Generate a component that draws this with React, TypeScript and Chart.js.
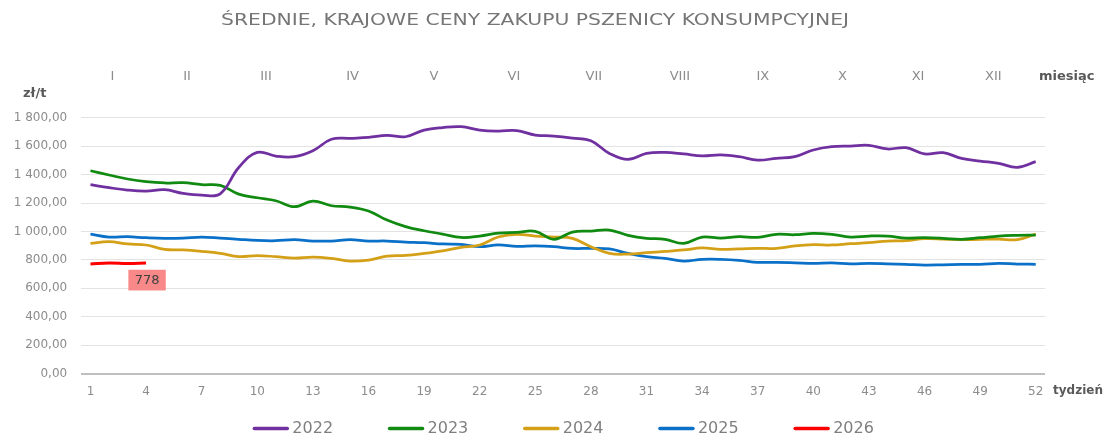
import { useEffect, useRef } from "react";
import { Chart, registerables } from "chart.js";

Chart.register(...registerables);

const TITLE = "ŚREDNIE, KRAJOWE CENY ZAKUPU PSZENICY KONSUMPCYJNEJ";

const weeks = [
  "1", "2", "3", "4", "5", "6", "7", "8", "9", "10", "11", "12", "13",
  "14", "15", "16", "17", "18", "19", "20", "21", "22", "23", "24", "25", "26",
  "27", "28", "29", "30", "31", "32", "33", "34", "35", "36", "37", "38", "39",
  "40", "41", "42", "43", "44", "45", "46", "47", "48", "49", "50", "51", "52",
];

const months = ["I", "II", "III", "IV", "V", "VI", "VII", "VIII", "IX", "X", "XI", "XII"];
// week number at which each month label is centred
const monthCenterWeeks = [2.18, 6.21, 10.47, 15.14, 19.53, 23.85, 28.16, 32.8, 37.28, 41.57, 45.65, 49.71];

const yTicks = [0, 200, 400, 600, 800, 1000, 1200, 1400, 1600, 1800];

const s2022 = [
  1329, 1308, 1291, 1284, 1294, 1268, 1256, 1265, 1450, 1556,
  1530, 1526, 1568, 1648, 1655, 1662, 1676, 1666, 1713, 1731,
  1737, 1713, 1706, 1709, 1678, 1671, 1657, 1638, 1549, 1507,
  1549, 1556, 1545, 1531, 1538, 1526, 1502, 1514, 1526, 1573,
  1596, 1601, 1606, 1580, 1589, 1545, 1554, 1514, 1495, 1479,
  1451, 1491,
];
const s2023 = [
  1427, 1397, 1369, 1350, 1341, 1343, 1329, 1324, 1263, 1237,
  1216, 1174, 1214, 1181, 1172, 1144, 1080, 1034, 1005, 982,
  958, 968, 989, 994, 1001, 945, 996, 1003, 1010, 973,
  952, 945, 916, 961, 954, 963, 959, 980, 977, 987,
  980, 961, 968, 968, 954, 956, 952, 945, 956, 968,
  973, 975,
];
const s2024 = [
  916, 928, 912, 905, 874, 870, 860, 846, 823, 830,
  823, 813, 820, 811, 792, 799, 827, 832, 846, 864,
  888, 905, 961, 980, 968, 961, 952, 893, 846, 841,
  851, 860, 870, 884, 874, 877, 881, 881, 898, 907,
  905, 914, 921, 933, 935, 949, 947, 942, 945, 947,
  942, 982,
];
const s2025 = [
  982, 961, 963, 956, 952, 954, 961, 954, 945, 937,
  935, 942, 933, 933, 942, 933, 933, 926, 921, 912,
  909, 893, 905, 895, 898, 893, 881, 881, 877, 846,
  823, 811, 792, 804, 804, 797, 783, 783, 780, 776,
  780, 773, 776, 773, 769, 764, 766, 769, 769, 776,
  771, 769,
];
const s2026 = [771, 779, 775, 778];

const seriesLabels = ["2022", "2023", "2024", "2025", "2026"];
const seriesColors = ["#7030a0", "#108a10", "#d4a017", "#0a70c8", "#ff0000"];
const seriesData = [s2022, s2023, s2024, s2025, s2026];

const FONT = '"DejaVu Sans", "Noto Sans", sans-serif';

function fmtPL(v: number): string {
  const s = v.toFixed(2);
  const [i, d] = s.split(".");
  return i.replace(/\B(?=(\d{3})+(?!\d))/g, " ") + "," + d;
}

const overlayPlugin = {
  id: "overlay",
  afterDraw(chart: any) {
    const { ctx, chartArea, scales } = chart;
    const xs = scales.x;
    ctx.save();
    ctx.textBaseline = "middle";

    // title
    ctx.font = `16.5px ${FONT}`;
    ctx.fillStyle = "#767676";
    const tw = ctx.measureText(TITLE).width;
    ctx.save();
    ctx.translate(535, 20.5);
    ctx.scale(628 / tw, 1);
    ctx.textAlign = "center";
    ctx.fillText(TITLE, 0, 0);
    ctx.restore();

    // month labels
    ctx.font = `13px ${FONT}`;
    ctx.fillStyle = "#8c8c8c";
    ctx.textAlign = "center";
    months.forEach((m, i) => {
      ctx.fillText(m, xs.getPixelForValue(monthCenterWeeks[i] - 1), 77);
    });

    // axis captions
    ctx.font = `bold 13px ${FONT}`;
    ctx.fillStyle = "#595959";
    ctx.textAlign = "left";
    ctx.fillText("miesiąc", chartArea.right - 6, 77);
    ctx.fillText("zł/t", 23, 94);
    ctx.font = `bold 12px ${FONT}`;
    ctx.fillText("tydzień", chartArea.right + 8, 391);

    // data label on last 2026 point
    const meta = chart.getDatasetMeta(4);
    const lastIdx = s2026.length - 1;
    const pt = meta.data[lastIdx];
    if (pt) {
      const cx = pt.x + 1;
      const cy = pt.y + 17;
      ctx.fillStyle = "#f98888";
      ctx.fillRect(cx - 18.7, cy - 10.3, 37.4, 20.7);
      ctx.font = `13px ${FONT}`;
      ctx.fillStyle = "#404040";
      ctx.textAlign = "center";
      ctx.fillText(String(s2026[lastIdx]), cx, cy + 0.5);
    }

    // legend
    ctx.font = `16px ${FONT}`;
    const pitch = 135.2;
    const lineLen = 37;
    const lastW = ctx.measureText(seriesLabels[seriesLabels.length - 1]).width;
    const total = pitch * (seriesLabels.length - 1) + lineLen + 3 + lastW;
    const start = (chartArea.left + chartArea.right) / 2 - total / 2;
    const ly = 428.5;
    chart.data.datasets.forEach((ds: any, i: number) => {
      const x0 = start + i * pitch;
      ctx.strokeStyle = ds.borderColor;
      ctx.lineWidth = 3.5;
      ctx.lineCap = "round";
      ctx.beginPath();
      ctx.moveTo(x0 + 2, ly);
      ctx.lineTo(x0 + lineLen - 2, ly);
      ctx.stroke();
      ctx.fillStyle = "#7f7f7f";
      ctx.textAlign = "left";
      ctx.fillText(ds.label, x0 + lineLen + 3, ly + 0.5);
    });

    ctx.restore();
  },
};

export default function App() {
  const ref = useRef<HTMLCanvasElement | null>(null);

  useEffect(() => {
    if (!ref.current) return;
    const chart = new Chart(ref.current, {
      type: "line",
      data: {
        labels: weeks,
        datasets: seriesData.map((d, i) => ({
          label: seriesLabels[i],
          data: d,
          borderColor: seriesColors[i],
          backgroundColor: seriesColors[i],
          borderWidth: i === 4 ? 3 : 2.75,
          pointRadius: 0,
          tension: 0.4,
          fill: false,
        })),
      },
      options: {
        responsive: false,
        animation: false,
        layout: { padding: { top: 117.7, right: 58, left: 0, bottom: 0 } },
        plugins: {
          legend: { display: false },
          title: { display: false },
          tooltip: { enabled: false },
        },
        scales: {
          x: {
            type: "category",
            offset: true,
            grid: { display: false, drawTicks: false },
            border: { display: false },
            ticks: {
              autoSkip: false,
              maxRotation: 0,
              padding: 11,
              color: "#8c8c8c",
              font: { family: FONT, size: 12 },
              callback: (_v: any, idx: number) => (idx % 3 === 0 ? weeks[idx] : ""),
            },
            afterFit: (s: any) => {
              s.height = 61.3;
            },
          },
          y: {
            min: yTicks[0],
            max: yTicks[yTicks.length - 1],
            afterBuildTicks: (s: any) => {
              s.ticks = yTicks.map((v) => ({ value: v }));
            },
            grid: {
              drawTicks: false,
              color: (c: any) => (c.tick && c.tick.value === 0 ? "#bfbfbf" : "#e3e3e3"),
              lineWidth: (c: any) => (c.tick && c.tick.value === 0 ? 2 : 1),
            },
            border: { display: false },
            ticks: {
              padding: 14,
              color: "#8c8c8c",
              font: { family: FONT, size: 12 },
              callback: (v: any) => fmtPL(Number(v)),
            },
            afterFit: (s: any) => {
              s.width = 81.2;
            },
          },
        },
      },
      plugins: [overlayPlugin],
    });
    return () => chart.destroy();
  }, []);

  return (
    <div style={{ position: "fixed", left: 0, top: 0, width: 1103, height: 435, background: "#fff" }}>
      <canvas ref={ref} width={1103} height={435} style={{ display: "block" }} />
    </div>
  );
}
